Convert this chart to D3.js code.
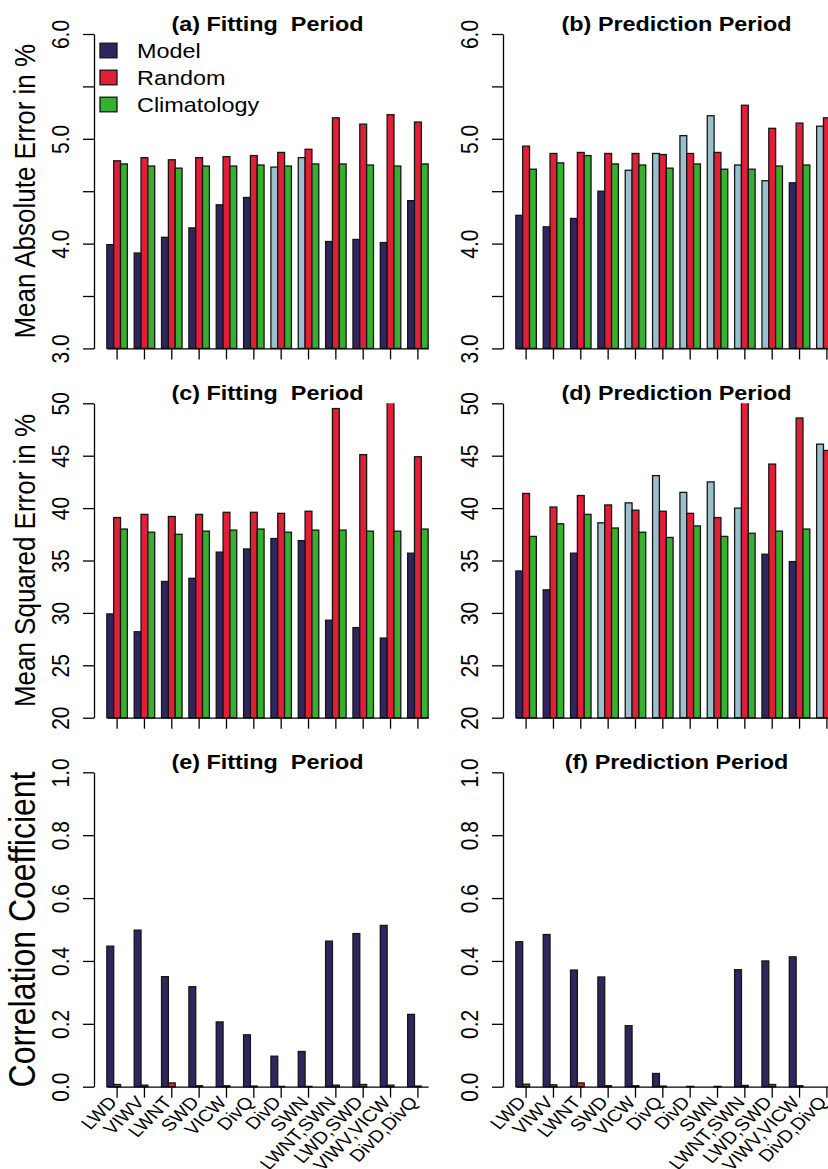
<!DOCTYPE html>
<html>
<head>
<meta charset="utf-8">
<script src="https://cdn.jsdelivr.net/npm/d3@7"></script>
<style>
  body { margin: 0; background: #fff; }
  svg { display: block; font-family: "Liberation Sans", Arial, Helvetica, sans-serif; }
</style>
</head>
<body>
<div id="chart"></div>
<script>
// Predictores (eje x) y series
const predictors = ["LWD", "VIWV", "LWNT", "SWD", "VICW", "DivQ", "DivD", "SWN",
  "LWNT,SWN", "LWD,SWD", "VIWV,VICW", "DivD,DivQ"];
const series = ["Model", "Random", "Climatology"];

// (a) Mean absolute error, fitting period
const maeFitModel  = [3.99, 3.91, 4.06, 4.15, 4.37, 4.44, 4.73, 4.82, 4.02, 4.04, 4.01, 4.41];
const maeFitRandom = [4.79, 4.82, 4.80, 4.82, 4.83, 4.84, 4.87, 4.90, 5.20, 5.14, 5.23, 5.16];
const maeFitClim   = [4.76, 4.74, 4.72, 4.74, 4.74, 4.75, 4.74, 4.76, 4.76, 4.75, 4.74, 4.76];
const maeFitLight  = [0, 0, 0, 0, 0, 0, 1, 1, 0, 0, 0, 0];

// (b) Mean absolute error, prediction period
const maePredModel  = [4.27, 4.16, 4.24, 4.50, 4.70, 4.86, 5.03, 5.22, 4.75, 4.60, 4.58, 5.12];
const maePredRandom = [4.93, 4.86, 4.87, 4.86, 4.86, 4.85, 4.86, 4.87, 5.32, 5.10, 5.15, 5.20];
const maePredClim   = [4.71, 4.77, 4.84, 4.76, 4.75, 4.72, 4.76, 4.71, 4.71, 4.74, 4.75, 4.75];
const maePredLight  = [0, 0, 0, 0, 1, 1, 1, 1, 1, 1, 0, 1];

// (c) Mean squared error, fitting period
const mseFitModel  = [29.9, 28.2, 33.0, 33.3, 35.8, 36.1, 37.1, 36.9, 29.3, 28.6, 27.6, 35.7];
const mseFitRandom = [39.1, 39.4, 39.2, 39.4, 39.6, 39.6, 39.5, 39.7, 49.5, 45.1, 50.5, 44.9];
const mseFitClim   = [38.0, 37.7, 37.5, 37.8, 37.9, 38.0, 37.7, 37.9, 37.9, 37.8, 37.8, 38.0];
const mseFitLight  = [0, 0, 0, 0, 0, 0, 0, 0, 0, 0, 0, 0];

// (d) Mean squared error, prediction period
const msePredModel  = [34.0, 32.2, 35.7, 38.6, 40.5, 43.1, 41.5, 42.5, 40.0, 35.6, 34.9, 46.1];
const msePredRandom = [41.4, 40.1, 41.2, 40.3, 39.8, 39.7, 39.5, 39.1, 50.5, 44.2, 48.6, 45.5];
const msePredClim   = [37.3, 38.5, 39.4, 38.1, 37.7, 37.2, 38.3, 37.3, 37.6, 37.8, 38.0, 37.9];
const msePredLight  = [0, 0, 0, 1, 1, 1, 1, 1, 1, 0, 0, 1];

// (e) Correlation coefficient, fitting period
const corFitModel  = [0.447, 0.498, 0.350, 0.318, 0.206, 0.165, 0.097, 0.112, 0.463, 0.487, 0.513, 0.230];
const corFitRandom = [0.007, 0.005, 0.012, 0.003, 0.003, 0.002, 0.001, 0.001, 0.005, 0.007, 0.005, 0.002];
const corFitClim   = [0, 0, 0, 0, 0, 0, 0, 0, 0, 0, 0, 0];

// (f) Correlation coefficient, prediction period
const corPredModel  = [0.461, 0.484, 0.371, 0.349, 0.194, 0.042, 0, 0, 0.372, 0.400, 0.413, 0];
const corPredRandom = [0.008, 0.006, 0.012, 0.003, 0.003, 0.002, 0.001, 0.001, 0.004, 0.007, 0.003, 0];
const corPredClim   = [0, 0, 0, 0, 0, 0, 0, 0, 0, 0, 0, 0];

// Ejes y
const maeTicks = [3.0, 3.5, 4.0, 4.5, 5.0, 5.5, 6.0];
const maeTickLabels = ["3.0", "", "4.0", "", "5.0", "", "6.0"];
const mseTicks = [20, 25, 30, 35, 40, 45, 50];
const mseTickLabels = ["20", "25", "30", "35", "40", "45", "50"];
const corTicks = [0, 0.2, 0.4, 0.6, 0.8, 1.0];
const corTickLabels = ["0.0", "0.2", "0.4", "0.6", "0.8", "1.0"];

const colors = { Model: "#30265f", Random: "#e21f36", Climatology: "#36b02f", light: "#9ac0cd" };

// Dimensiones generales (la figura original esta estirada en horizontal)
const W = 828, H = 1169;
const STRETCH = 1.17;
const plotW = 347, plotH = 314.4;
const cols = [94, 503];
const rows = [34, 403.3, 772.3];

const svg = d3.select("#chart").append("svg").attr("width", W).attr("height", H);

const panels = [
  { col: 0, row: 0, title: "(a) Fitting  Period", model: maeFitModel, random: maeFitRandom, clim: maeFitClim,
    light: maeFitLight, domain: [3, 6], ticks: maeTicks, tickLabels: maeTickLabels, ylab: "Mean Absolute Error in %", ylabSize: 26, legend: true },
  { col: 1, row: 0, title: "(b) Prediction Period", model: maePredModel, random: maePredRandom, clim: maePredClim,
    light: maePredLight, domain: [3, 6], ticks: maeTicks, tickLabels: maeTickLabels },
  { col: 0, row: 1, title: "(c) Fitting  Period", model: mseFitModel, random: mseFitRandom, clim: mseFitClim,
    light: mseFitLight, domain: [20, 50], ticks: mseTicks, tickLabels: mseTickLabels, ylab: "Mean Squared Error in %", ylabSize: 26 },
  { col: 1, row: 1, title: "(d) Prediction Period", model: msePredModel, random: msePredRandom, clim: msePredClim,
    light: msePredLight, domain: [20, 50], ticks: mseTicks, tickLabels: mseTickLabels },
  { col: 0, row: 2, title: "(e) Fitting  Period", model: corFitModel, random: corFitRandom, clim: corFitClim,
    light: null, domain: [0, 1], ticks: corTicks, tickLabels: corTickLabels, ylab: "Correlation Coefficient", ylabSize: 32, xlabels: true },
  { col: 1, row: 2, title: "(f) Prediction Period", model: corPredModel, random: corPredRandom, clim: corPredClim,
    light: null, domain: [0, 1], ticks: corTicks, tickLabels: corTickLabels, xlabels: true },
];

panels.forEach((p, idx) => drawPanel(p, idx));

function drawPanel(p, idx) {
  const left = cols[p.col];
  const top = rows[p.row];
  const bottom = top + plotH;

  const y = d3.scaleLinear().domain(p.domain).range([bottom, top]);
  // unidades de barplot: 12 grupos de 3 barras + 1 espacio
  const xu = d3.scaleLinear().domain([-0.88, 49.88]).range([left, left + plotW]);
  const gx = d3.scaleBand().domain(predictors).range([xu(1), xu(48)]).paddingInner(0.25).paddingOuter(0);
  const sx = d3.scaleBand().domain(series).range([0, gx.bandwidth()]);

  const clipId = "clip" + idx;
  svg.append("clipPath").attr("id", clipId)
    .append("rect")
    .attr("x", left).attr("y", top)
    .attr("width", plotW).attr("height", plotH + 1.5);

  const rowsData = predictors.map((name, i) => ({
    name,
    values: [
      { key: "Model", v: p.model[i], light: p.light ? p.light[i] : 0 },
      { key: "Random", v: p.random[i] },
      { key: "Climatology", v: p.clim[i] },
    ],
  }));

  const g = svg.append("g").attr("clip-path", `url(#${clipId})`);
  const groups = g.selectAll(".grp").data(rowsData).enter().append("g")
    .attr("class", "grp")
    .attr("transform", (d) => `translate(${gx(d.name)},0)`);

  groups.selectAll("rect").data((d) => d.values).enter().append("rect")
    .attr("x", (d) => sx(d.key))
    .attr("width", sx.bandwidth())
    .attr("y", (d) => y(Math.max(d.v, p.domain[0])))
    .attr("height", (d) => y(p.domain[0]) - y(Math.max(d.v, p.domain[0])))
    .attr("fill", (d) => (d.light ? colors.light : colors[d.key]))
    .attr("stroke", "#151515")
    .attr("stroke-width", 1.3);

  // Eje y
  const yAxis = svg.append("g")
    .attr("transform", `translate(${left},0)`)
    .call(d3.axisLeft(y).tickValues(p.ticks).tickSize(11).tickSizeOuter(0)
      .tickFormat((d, i) => p.tickLabels[i]));
  yAxis.attr("font-family", null).attr("font-size", null);
  yAxis.selectAll("path, line").attr("stroke", "#000").attr("stroke-width", 1.3);
  yAxis.selectAll("text")
    .attr("x", null).attr("dy", null)
    .attr("transform", `translate(-25,0) scale(${STRETCH},1) rotate(-90)`)
    .attr("text-anchor", "middle")
    .attr("fill", "#000")
    .attr("font-size", 21)
    .style("font-size", "21px");

  // Eje x
  const xAxis = svg.append("g")
    .attr("transform", `translate(0,${bottom})`)
    .call(d3.axisBottom(gx).tickSize(11).tickSizeOuter(0)
      .tickFormat((d) => (p.xlabels ? d : "")));
  xAxis.attr("font-family", null).attr("font-size", null);
  xAxis.selectAll("path, line").attr("stroke", "#000").attr("stroke-width", 1.3);
  xAxis.selectAll("text")
    .attr("y", null).attr("dy", null)
    .attr("transform", `translate(1,16) scale(${STRETCH},1) rotate(-49.5)`)
    .attr("text-anchor", "end")
    .attr("fill", "#000")
    .attr("font-size", 17)
    .style("font-size", "17px");

  // Titulo
  svg.append("text")
    .attr("transform", `translate(${left + plotW / 2},${top - 3}) scale(${STRETCH},1)`)
    .attr("text-anchor", "middle")
    .style("white-space", "pre")
    .style("font-weight", "bold")
    .style("font-size", "20px")
    .text(p.title);

  if (p.ylab) {
    svg.append("text")
      .attr("transform", `translate(35,${(top + bottom) / 2}) scale(${STRETCH},1) rotate(-90)`)
      .attr("text-anchor", "middle")
      .style("font-size", p.ylabSize + "px")
      .text(p.ylab);
  }

  if (p.legend) {
    const lg = svg.append("g").attr("transform", `translate(100,${top + 16.5})`);
    const items = lg.selectAll("g").data(series).enter().append("g")
      .attr("transform", (d, i) => `translate(0,${i * 27})`);
    items.append("rect")
      .attr("x", 0).attr("y", -7.3)
      .attr("width", 17).attr("height", 14.6)
      .attr("fill", (d) => colors[d])
      .attr("stroke", "#151515").attr("stroke-width", 1.3);
    items.append("text")
      .attr("transform", `translate(37,7.5) scale(${STRETCH},1)`)
      .style("font-size", "20px")
      .text((d) => d);
  }
}
</script>
</body>
</html>
